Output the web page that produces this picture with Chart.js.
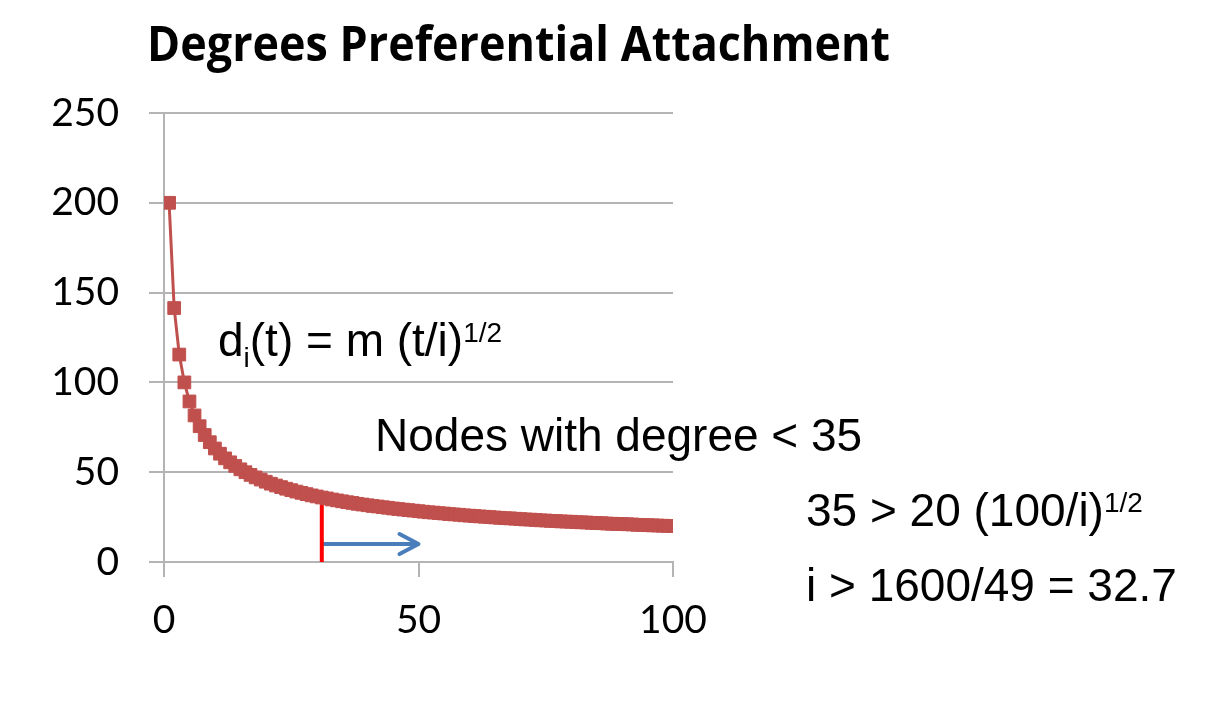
<!DOCTYPE html>
<html>
<head>
<meta charset="utf-8">
<script src="https://cdn.jsdelivr.net/npm/chart.js@4.4.1/dist/chart.umd.min.js"></script>
<style>
  html, body { margin: 0; padding: 0; background: #fff; }
  #wrap { width: 1216px; height: 717px; }
</style>
</head>
<body>
<div id="wrap"><canvas id="chart"></canvas></div>
<script>
const titleText = 'Degrees Preferential Attachment';

// node index i = 1..100 (x axis)
const nodeIndex = Array.from({ length: 100 }, (_, k) => k + 1);

// degree for each node
const degrees = [
  200, 141.4, 115.5, 100, 89.4, 81.6, 75.6, 70.7, 66.7, 63.2,
  60.3, 57.7, 55.5, 53.5, 51.6, 50, 48.5, 47.1, 45.9, 44.7,
  43.6, 42.6, 41.7, 40.8, 40, 39.2, 38.5, 37.8, 37.1, 36.5,
  35.9, 35.4, 34.8, 34.3, 33.8, 33.3, 32.9, 32.4, 32.0, 31.6,
  31.2, 30.9, 30.5, 30.2, 29.8, 29.5, 29.2, 28.9, 28.6, 28.3,
  28.0, 27.7, 27.5, 27.2, 27.0, 26.7, 26.5, 26.3, 26.0, 25.8,
  25.6, 25.4, 25.2, 25.0, 24.8, 24.6, 24.4, 24.3, 24.1, 23.9,
  23.7, 23.6, 23.4, 23.2, 23.1, 22.9, 22.8, 22.6, 22.5, 22.4,
  22.2, 22.1, 22.0, 21.8, 21.7, 21.6, 21.4, 21.3, 21.2, 21.1,
  21.0, 20.9, 20.7, 20.6, 20.5, 20.4, 20.3, 20.2, 20.1, 20.0
];

// red cut-off marker and blue arrow
const cutoffX = [31, 31];
const cutoffY = [0, 33];
const arrowX = [31, 50];
const arrowY = [10, 10];

const xMin = 0, xMax = 100, xStep = 50;
const yMin = 0, yMax = 250, yStep = 50;

const gridColor = '#b4b4b4';
const seriesColor = '#c0504d';

function toPoints(xs, ys) {
  return xs.map((x, k) => ({ x: x, y: ys[k] }));
}

// draws a run of text pieces with sub/superscripts
function drawRuns(ctx, x, y, runs) {
  ctx.textBaseline = 'alphabetic';
  ctx.textAlign = 'left';
  runs.forEach(r => {
    ctx.font = r.size + 'px "Liberation Sans", Arial, sans-serif';
    ctx.fillText(r.t, x, y + (r.dy || 0));
    x += ctx.measureText(r.t).width;
  });
}

const textPlugin = {
  id: 'slideText',
  afterDatasetsDraw(chart) {
    const ctx = chart.ctx;
    const xs = chart.scales.x, ys = chart.scales.y;

    // arrow head at the end of the blue line
    const tipX = xs.getPixelForValue(arrowX[1]);
    const tipY = ys.getPixelForValue(arrowY[1]);
    ctx.save();
    ctx.strokeStyle = '#4a7ebb';
    ctx.lineWidth = 4;
    ctx.lineCap = 'round';
    ctx.lineJoin = 'round';
    ctx.beginPath();
    ctx.moveTo(tipX - 19, tipY - 10);
    ctx.lineTo(tipX, tipY);
    ctx.lineTo(tipX - 19, tipY + 10);
    ctx.stroke();
    ctx.restore();

    ctx.save();
    ctx.fillStyle = '#000';
    // title, squeezed to the width of the original
    ctx.font = 'bold 49px "Open Sans", sans-serif';
    const w = ctx.measureText(titleText).width;
    ctx.translate(147, 61);
    ctx.scale(743 / w, 1);
    ctx.textBaseline = 'alphabetic';
    ctx.fillText(titleText, 0, 0);
    ctx.restore();

    ctx.save();
    ctx.fillStyle = '#000';
    drawRuns(ctx, 218, 356, [
      { t: 'd', size: 46 },
      { t: 'i', size: 28, dy: 11 },
      { t: '(t) = m (t/i)', size: 46 },
      { t: '1/2', size: 28, dy: -14 }
    ]);
    drawRuns(ctx, 375, 451, [{ t: 'Nodes with degree < 35', size: 46 }]);
    drawRuns(ctx, 806, 526, [
      { t: '35 > 20 (100/i)', size: 46 },
      { t: '1/2', size: 28, dy: -14 }
    ]);
    drawRuns(ctx, 806, 601, [{ t: 'i > 1600/49 = 32.7', size: 46 }]);
    ctx.restore();
  }
};

new Chart(document.getElementById('chart'), {
  type: 'scatter',
  data: {
    datasets: [
      {
        label: 'Degree',
        data: toPoints(nodeIndex, degrees),
        showLine: true,
        borderColor: seriesColor,
        borderWidth: 3,
        pointStyle: 'rect',
        pointRadius: 9,
        pointBorderWidth: 1,
        pointBackgroundColor: seriesColor,
        pointBorderColor: seriesColor
      },
      {
        label: 'cutoff',
        data: toPoints(cutoffX, cutoffY),
        showLine: true,
        borderColor: '#ff0000',
        borderWidth: 4,
        pointRadius: 0
      },
      {
        label: 'arrow',
        data: toPoints(arrowX, arrowY),
        showLine: true,
        borderColor: '#4a7ebb',
        borderWidth: 4,
        pointRadius: 0
      }
    ]
  },
  options: {
    responsive: true,
    maintainAspectRatio: false,
    animation: false,
    layout: { padding: { top: 113, right: 543, bottom: 0, left: 0 } },
    plugins: {
      legend: { display: false },
      tooltip: { enabled: false },
      title: { display: false }
    },
    scales: {
      x: {
        type: 'linear',
        min: xMin,
        max: xMax,
        afterFit: s => { s.height = 155; },
        ticks: {
          stepSize: xStep,
          padding: 20,
          color: '#000',
          font: { family: 'Lato, "Open Sans", sans-serif', size: 39 }
        },
        grid: {
          drawOnChartArea: false,
          drawTicks: true,
          tickLength: 15,
          color: gridColor,
          lineWidth: 2
        },
        border: { display: true, color: gridColor, width: 2 }
      },
      y: {
        min: yMin,
        max: yMax,
        afterFit: s => { s.width = 164; },
        ticks: {
          stepSize: yStep,
          padding: 30,
          color: '#000',
          font: { family: 'Lato, "Open Sans", sans-serif', size: 39 }
        },
        grid: {
          drawTicks: true,
          tickLength: 15,
          color: gridColor,
          lineWidth: 2
        },
        border: { display: true, color: gridColor, width: 2 }
      }
    }
  },
  plugins: [textPlugin]
});
</script>
</body>
</html>
